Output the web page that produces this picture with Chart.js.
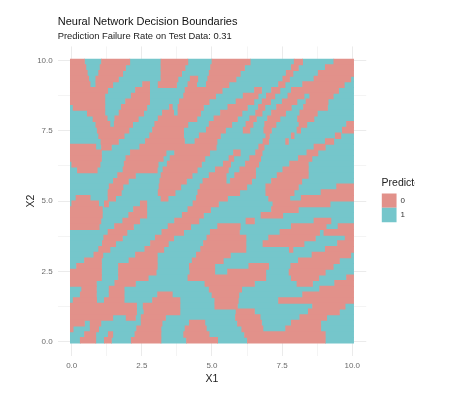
<!DOCTYPE html>
<html>
<head>
<meta charset="utf-8">
<style>
  html, body { margin: 0; padding: 0; background: #fff; }
  #wrap { width: 451px; height: 413px; }
</style>
<script src="https://cdn.jsdelivr.net/npm/chart.js@4"></script>
</head>
<body>
<div id="wrap"><canvas id="boundaryChart" width="451" height="413"></canvas></div>
<script>
// Predicted class per row of the grid, top row first. Each row lists the
// [from, to] stretches (in grid steps, 0-100) predicted as class 0;
// everything else in the row is class 1.
const classNames = ['0', '1'];
const gridSteps = 100;
const zeroRuns = [
  [0,5, 11,21, 32,41.5, 50,63.5, 79,82, 93,100],
  [0,5.5, 10.5,19.5, 32,40.5, 49.5,61.5, 78,80.5, 90,100],
  [0,6, 10,18.5, 32,39.3, 49,60, 76.2,78.6, 87.5,100],
  [0,6.5, 9,17, 32,38, 42.3,45, 48.5,58.5, 75,77.4, 86,99],
  [0,7, 9,15, 25.5,28, 31,37.5, 41.5,44.6, 48,56, 73.5,75.8, 82,96.7],
  [0,13.2, 23,28, 40.5,53.6, 65,67.5, 71,74, 78,94.7],
  [0,12.2, 21.5,28, 40,51.3, 61,66.3, 69.2,72.2, 76.8,82.5, 84.5,92.8],
  [0,12.2, 19.5,28, 38.5,49, 58.5,64.8, 67.7,70.7, 74.8,80, 83.2,91],
  [1,12.2, 18,27, 35,36, 38,47, 55.6,62.5, 66.4,68.7, 72.8,78, 82.3,90.8],
  [6,12.2, 17.2,25.9, 32.5,36.5, 38,46, 53,60.6, 65.4,67.7, 71,76, 81,87.2],
  [8,13, 15.7,24, 31,44.7, 50.7,59, 63.3,65.7, 69.6,74, 80.2,86],
  [9,14, 15.5,22, 29.8,41.5, 49,57, 62,64.5, 68.6,72.6, 80.7,83.5, 97.5,100],
  [9.5,20.7, 29,40, 48,54.8, 61,63.4, 68.3,71, 80,81.3, 96,100],
  [10,19, 28,40, 45.5,53, 69,70.3, 78,79, 93.5,95.5],
  [10.8,17, 26.5,40.3, 44,51.8, 68,70, 76,77, 90,93],
  [0,9, 11,14.5, 24.5,51.5, 66.5,68.4, 86,90],
  [0,11, 21.2,33.8, 36.8,49.2, 57.6,60, 65.4,67.7, 83.5,87.4],
  [0,11, 19.6,32.8, 35.2,47.5, 56,57.7, 63.3,67.2, 80.5,85.3],
  [0.5,10.5, 19,31, 34.2,46.3, 54,56.6, 61.8,66.5, 77.4,84],
  [2.5,9.5, 18.6,30.7, 32.7,44.8, 51.2,55.8, 59.8,65.4, 75,84],
  [16.7,23, 32,43, 49,55, 58,65.4, 73,84],
  [15.2,20.5, 31.6,41, 46.8,55, 56.5,64, 71,81.7],
  [13.7,18.6, 31.3,39, 45.8,62.3, 69,80.5, 94,100],
  [13.3,18, 31,37, 45,59.8, 69,79, 88.5,100],
  [2,7, 13.3,16, 32,34.5, 44.5,55.5, 70,77.5, 81.5,100],
  [0.5,10, 12,13.5, 24.7,27, 43.3,52.3, 71.5,91.7],
  [0,11.3, 22.3,27, 41.5,49.5, 71,80.5],
  [0,11.3, 20.6,27, 39.5,47, 67.3,75],
  [0,10.8, 18.5,24.5, 36.8,45.4, 62,65, 86,92],
  [0,10.2, 15.6,22.3, 34.5,42.5, 52,60, 78,90.3, 94.5,100],
  [13.3,20, 32.3,40, 49.4,59.7, 74,88, 89.5,100],
  [11.8,18.4, 30,36.5, 48.2,62, 70,86.5, 97,100],
  [11.3,16, 28.3,34.6, 47,62, 68,82.5, 94.3,100],
  [10,14, 26.3,33, 46,62, 77.3,78.6, 90,100],
  [8.3,11.5, 23,30.7, 44.5,56.5, 85.3,99],
  [5,11, 20.7,30.7, 43,54, 80.5,95],
  [2.2,11, 17,30.7, 42,51, 63,70, 77.8,92.8],
  [0,11, 17,30.3, 42.2,51, 55.5,69, 77.2,90],
  [0,11, 17,27.5, 41.5,69, 78,87.7, 97.5,100],
  [0,9.2, 15.7,23, 47.5,65, 80,85.5, 93.3,100],
  [4,9.2, 13.7,19, 49,60.5, 88,100],
  [3.5,9.2, 13.7,19, 30.8,36, 50,59.5, 82,100],
  [1,9.3, 12,19, 29,38.7, 51,59.3, 73.5,100],
  [0,23.4, 25.7,38.7, 51,59, 85.5,97],
  [0,23.4, 26,38.7, 58.5,65, 84,95],
  [0,15, 19.7,23, 25,33.6, 58.3,67, 81,90.5],
  [0,5, 7,10.8, 25,32.4, 42,47.5, 59,67.5, 78,88.4],
  [0,1, 7,10, 23.4,32, 40.5,48, 60.5,68, 76,88.4],
  [5,9, 13.4,15, 22.8,32, 40,49, 61.5,90],
  [3.5,9, 12,14.5, 21.5,32, 41,52, 62.5,90]
];

// Axis ticks: labelled majors and unlabelled minors
const majorTicks = [0, 2.5, 5, 7.5, 10];
const minorTicks = [1.25, 3.75, 6.25, 8.75];

const gridMin = -0.05;
const gridStep = 0.101;

// Turn a grid step into an X1 value
function stepToValue(step) {
  return gridMin + step * gridStep;
}

// Row centre on the X2 axis, rows are two grid steps high
function rowToValue(rowIndex) {
  return 10.05 - (rowIndex * 2 + 1) * gridStep;
}

// Floating bars for class 0
function zeroBars() {
  const bars = [];
  zeroRuns.forEach(function (runs, rowIndex) {
    for (let i = 0; i < runs.length; i += 2) {
      bars.push({ y: rowToValue(rowIndex), x: [stepToValue(runs[i]), stepToValue(runs[i + 1])] });
    }
  });
  return bars;
}

// Floating bars for class 1: the gaps between the class 0 stretches
function oneBars() {
  const bars = [];
  zeroRuns.forEach(function (runs, rowIndex) {
    let start = 0;
    for (let i = 0; i < runs.length; i += 2) {
      if (runs[i] > start) {
        bars.push({ y: rowToValue(rowIndex), x: [stepToValue(start), stepToValue(runs[i])] });
      }
      start = runs[i + 1];
    }
    if (start < gridSteps) {
      bars.push({ y: rowToValue(rowIndex), x: [stepToValue(start), stepToValue(gridSteps)] });
    }
  });
  return bars;
}

function gridColor(context) {
  return context.tick && majorTicks.includes(context.tick.value) ? '#ebebeb' : '#f4f4f4';
}

function setAxisTicks(scale) {
  scale.ticks = majorTicks.concat(minorTicks).sort(function (a, b) { return a - b; })
    .map(function (v) { return { value: v }; });
}

function tickLabel(value) {
  return majorTicks.includes(value) ? value.toFixed(1) : '';
}

const fontFamily = '"Liberation Sans", Arial, sans-serif';

new Chart(document.getElementById('boundaryChart').getContext('2d'), {
  type: 'bar',
  data: {
    datasets: [
      { label: classNames[0], data: zeroBars(), backgroundColor: '#E2918A', borderWidth: 0 },
      { label: classNames[1], data: oneBars(), backgroundColor: '#75C6CB', borderWidth: 0 }
    ]
  },
  options: {
    indexAxis: 'y',
    responsive: false,
    animation: false,
    grouped: false,
    barThickness: 6,
    layout: { padding: { left: 25, right: 36, top: 15, bottom: 28 } },
    scales: {
      x: {
        type: 'linear',
        min: -0.5,
        max: 10.5,
        afterBuildTicks: setAxisTicks,
        afterFit: function (scale) { scale.height = 29.3; },
        grid: { color: gridColor, drawTicks: false },
        border: { display: false },
        ticks: { callback: tickLabel, autoSkip: false, maxRotation: 0, padding: 5, color: '#6b6b6b', font: { family: fontFamily, size: 8 } },
        title: { display: true, text: 'X1', color: '#222', padding: 0, font: { family: fontFamily, size: 10.5 } }
      },
      y: {
        type: 'linear',
        min: -0.5,
        max: 10.5,
        offset: false,
        afterBuildTicks: setAxisTicks,
        afterFit: function (scale) { scale.width = 32.7; },
        grid: { color: gridColor, drawTicks: false, offset: false },
        border: { display: false },
        ticks: { callback: tickLabel, autoSkip: false, padding: 5, color: '#6b6b6b', font: { family: fontFamily, size: 8 } },
        title: { display: true, text: 'X2', color: '#222', padding: 0, font: { family: fontFamily, size: 10.5 } }
      },
      // empty axis, only keeps the legend clear of the panel
      legendGap: {
        type: 'linear',
        axis: 'y',
        position: 'right',
        afterFit: function (scale) { scale.width = 15.3; },
        ticks: { display: false },
        grid: { display: false },
        border: { display: false }
      }
    },
    plugins: {
      tooltip: { enabled: false },
      title: {
        display: true,
        text: 'Neural Network Decision Boundaries',
        align: 'start',
        fullSize: false,
        color: '#111',
        padding: { top: 0, bottom: 3 },
        font: { family: fontFamily, size: 11, weight: 'normal' }
      },
      subtitle: {
        display: true,
        text: 'Prediction Failure Rate on Test Data: 0.31',
        align: 'start',
        fullSize: false,
        color: '#222',
        padding: { top: 0, bottom: 4 },
        font: { family: fontFamily, size: 9.4, weight: 'normal' }
      },
      legend: {
        position: 'right',
        align: 'center',
        title: { display: true, text: 'Predicted_Y', position: 'start', color: '#222', padding: { top: 0, bottom: 3 }, font: { family: fontFamily, size: 10.5 } },
        labels: { boxWidth: 15, boxHeight: 14.4, padding: 0, color: '#333', font: { family: fontFamily, size: 8 } }
      }
    }
  }
});
</script>
</body>
</html>
